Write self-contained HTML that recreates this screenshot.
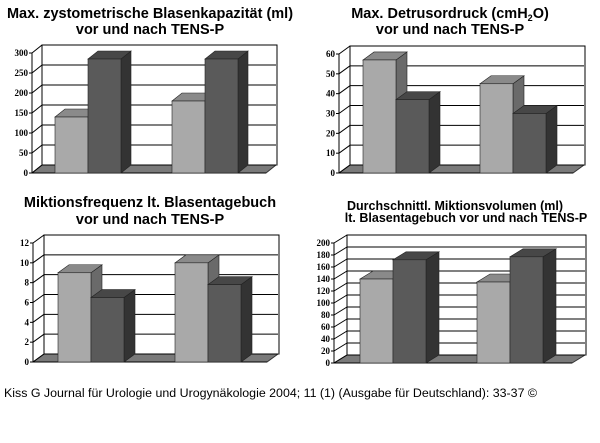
<!DOCTYPE html>
<html><head><meta charset="utf-8"><style>
body{margin:0;background:#fff;width:600px;height:443px;overflow:hidden;font-family:"Liberation Sans",sans-serif}
svg{position:absolute;left:0;top:0}
</style></head><body>
<svg width="600" height="443">
<g font-family="Liberation Sans, sans-serif" font-weight="bold" text-anchor="middle" fill="#000">
<text x="150" y="18" font-size="14.5">Max. zystometrische Blasenkapazität (ml)</text>
<text x="150" y="34" font-size="14.5">vor und nach TENS-P</text>
<text x="450" y="18" font-size="14.5">Max. Detrusordruck (cmH<tspan font-size="9" dy="3">2</tspan><tspan dy="-3">O)</tspan></text>
<text x="450" y="34" font-size="14.5">vor und nach TENS-P</text>
<text x="150" y="207" font-size="14.5">Miktionsfrequenz lt. Blasentagebuch</text>
<text x="150" y="224" font-size="14.5">vor und nach TENS-P</text>
<text x="455" y="210" font-size="12.5">Durchschnittl. Miktionsvolumen (ml)</text>
<text x="466" y="222" font-size="12.5">lt. Blasentagebuch vor und nach TENS-P</text>
</g>
<text x="4" y="397" font-size="12.4" font-family="Liberation Sans, sans-serif">Kiss G Journal für Urologie und Urogynäkologie 2004; 11 (1) (Ausgabe für Deutschland): 33-37 ©</text>
<g id="charts"></g>
</svg>
<script>
const chart1Values=[140,285,180,285];
const chart1Ticks=[0,50,100,150,200,250,300];
const chart2Values=[57,37,45,30];
const chart2Ticks=[0,10,20,30,40,50,60];
const chart3Values=[9,6.5,10,7.8];
const chart3Ticks=[0,2,4,6,8,10,12];
const chart4Values=[140,172,135,177];
const chart4Ticks=[0,20,40,60,80,100,120,140,160,180,200];

const NS="http://www.w3.org/2000/svg";
const root=document.getElementById('charts');
function mk(tag,attrs,parent){const e=document.createElementNS(NS,tag);for(const k in attrs)e.setAttribute(k,attrs[k]);parent.appendChild(e);return e;}

function draw(id,values,ticks,g){
  const grp=mk('g',{},root);
  
  
  const max=ticks[ticks.length-1];
  const y=v=>g.y0-v/max*g.h;
  const {x0,y0,w,dx,dy,bw}=g;
  const wall=mk('rect',{x:x0+dx,y:y0-dy-g.h,width:w+1,height:g.h,fill:'#fff',stroke:'#000','stroke-width':1},grp);
  
  
  const fl=mk('polygon',{points:`${x0},${y0} ${x0+w},${y0} ${x0+w+dx},${y0-dy} ${x0+dx},${y0-dy}`,fill:'#7a7a7a',stroke:'#333'},grp);
  
  
  ticks.forEach(t=>{
    const yy=y(t);
    const gl=mk('line',{x1:x0+dx,y1:yy-dy,x2:x0+dx+w,y2:yy-dy,stroke:'#000','stroke-width':1},grp);
    
    
    const sl=mk('line',{x1:x0,y1:yy,x2:x0+dx,y2:yy-dy,stroke:'#000','stroke-width':1},grp);
    
    
    const tk=mk('line',{x1:x0-3,y1:yy,x2:x0,y2:yy,stroke:'#000'},grp);
    
    
    const tl=mk('text',{x:x0-4,y:yy+3,'font-size':9,'font-weight':'bold','font-family':'Liberation Serif, serif','text-anchor':'end'},grp);
    tl.textContent=t;
    
    
  });
  const ax=mk('line',{x1:x0,y1:y0,x2:x0,y2:y(max),stroke:'#000'},grp);
  
  
  const ax2=mk('line',{x1:x0,y1:y0,x2:x0+w,y2:y0,stroke:'#000'},grp);
  
  
  const cols=[['#a9a9a9','#8a8a8a','#6a6a6a'],['#5a5a5a','#474747','#333']];
  values.forEach((v,i)=>{
    const bx=g.bars[i];
    const c=cols[i%2];
    const top=y(v);
    const bar=mk('g',{},grp);
    
    
    mk('polygon',{points:`${bx+bw},${y0} ${bx+bw+dx},${y0-dy} ${bx+bw+dx},${top-dy} ${bx+bw},${top}`,fill:c[2],stroke:'#222','stroke-width':0.6},bar);
    mk('polygon',{points:`${bx},${top} ${bx+dx},${top-dy} ${bx+bw+dx},${top-dy} ${bx+bw},${top}`,fill:c[1],stroke:'#222','stroke-width':0.6},bar);
    mk('rect',{x:bx,y:top,width:bw,height:y0-top,fill:c[0],stroke:'#222','stroke-width':0.6},bar);
  });
}
draw('chart1',chart1Values,chart1Ticks,{x0:32,y0:173,h:120,w:234,dx:10,dy:8,bw:33,bars:[55,88,172,205]});
draw('chart2',chart2Values,chart2Ticks,{x0:339,y0:173,h:119,w:234,dx:11,dy:8,bw:33,bars:[363,396,480,513]});
draw('chart3',chart3Values,chart3Ticks,{x0:33,y0:362,h:119,w:234,dx:11,dy:8,bw:33,bars:[58,91,175,208]});
draw('chart4',chart4Values,chart4Ticks,{x0:334,y0:363,h:120,w:238,dx:13,dy:8,bw:33,bars:[360,393,477,510]});
</script>
</body></html>
